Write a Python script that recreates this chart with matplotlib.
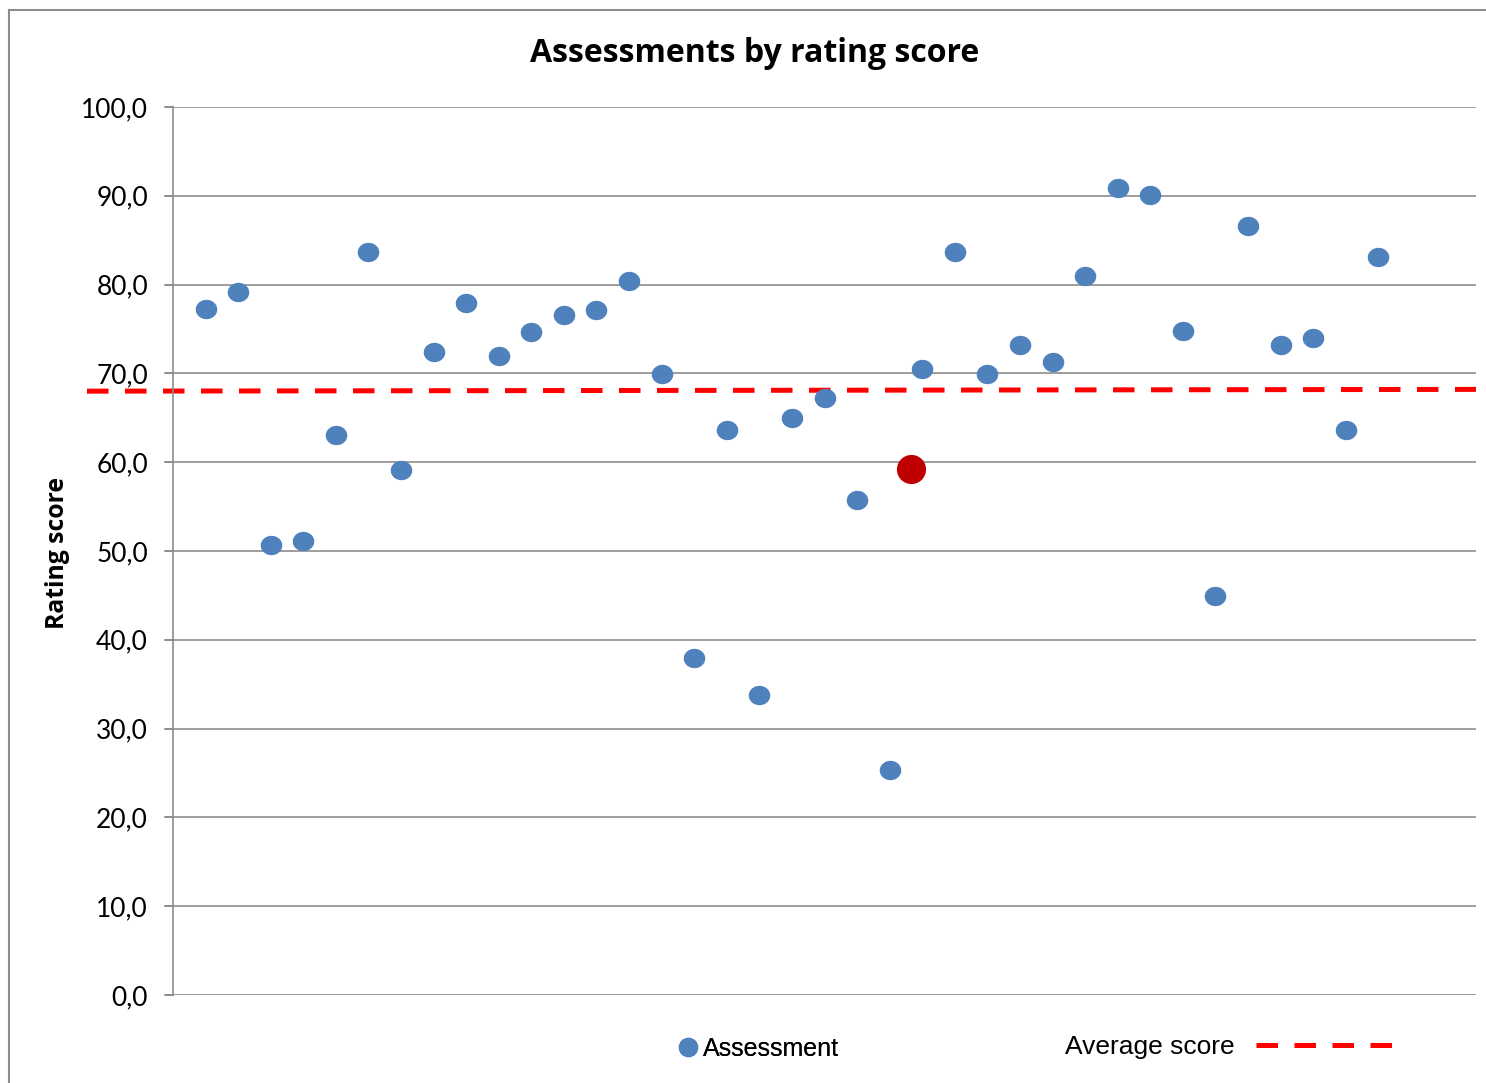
import matplotlib
matplotlib.use("Agg")
import matplotlib.pyplot as plt
import numpy as np
from matplotlib.path import Path
from matplotlib.lines import Line2D

# ---- data ----
assess_x = list(range(1, 38))
assess_y = [77.2, 79.2, 50.7, 51.1, 63.1, 83.7, 59.1, 72.4, 77.9, 72.0,
            74.7, 76.6, 77.1, 80.4, 69.9, 38.0, 63.6, 33.8, 65.0, 67.2,
            55.7, 25.3, 70.5, 83.7, 69.9, 73.2, 71.3, 81.0, 90.9, 90.1,
            74.8, 44.9, 86.6, 73.2, 74.0, 63.6, 83.1]
highlight_x = [22.67]
highlight_y = [59.2]
avg_x = [-2.64, 40.0]
avg_y = [68.0, 68.2]
yticks = [0, 10, 20, 30, 40, 50, 60, 70, 80, 90, 100]
ytick_labels = ["0,0", "10,0", "20,0", "30,0", "40,0", "50,0", "60,0",
                "70,0", "80,0", "90,0", "100,0"]
title = "Assessments by rating score"
ylabel = "Rating score"

W, H = 1486, 1083
fig = plt.figure(figsize=(W / 100, H / 100), dpi=100)
ax = fig.add_axes([173 / W, (H - 995) / H, (1476 - 173) / W, (995 - 107) / H])

grid_c = "#8c8c8c"
blue = "#4F81BD"

# ellipse marker
t = np.linspace(0, 2 * np.pi, 60)
ell = Path(np.column_stack([np.cos(t), 0.9 * np.sin(t)]), closed=True)

ax.set_xlim(0, 40)
ax.set_ylim(0, 100)
ax.set_yticks(yticks)
ax.set_yticklabels(ytick_labels, fontsize=19, family="Lato")
ax.set_xticks([])
for s in ["top", "right"]:
    ax.spines[s].set_visible(False)
ax.spines["left"].set_color(grid_c)
ax.spines["left"].set_linewidth(1.2)
ax.spines["bottom"].set_visible(False)
ax.tick_params(axis="y", length=6, width=1.2, color=grid_c, pad=12)
ax.grid(axis="y", color=grid_c, linewidth=1.2)
ax.set_axisbelow(True)
# extend gridlines to tick
for yv in yticks:
    ax.plot([-0.245, 0], [yv, yv], color=grid_c, lw=1.2, clip_on=False, zorder=0.5)

ax.plot(assess_x, assess_y, linestyle="none", marker=ell, markersize=15.5,
        markerfacecolor=blue, markeredgecolor="none", zorder=3)
ax.plot(highlight_x, highlight_y, linestyle="none", marker="o", markersize=21,
        markerfacecolor="#C00000", markeredgecolor="none", zorder=4)
ax.plot(avg_x, avg_y, color="#FF0000", lw=3.6, dashes=(4.3, 3.3),
        dash_capstyle="butt", clip_on=False, zorder=2)

fig.text(755 / W, 1 - 54 / H, title, fontsize=23, fontweight="bold",
         family="Open Sans", ha="center", va="center")
fig.text(57 / W, 1 - 553 / H, ylabel, fontsize=17.8, fontweight="bold",
         family="Open Sans", ha="center", va="center", rotation=90)

# legends
h1 = Line2D([], [], linestyle="none", marker="o", markersize=14,
            markerfacecolor=blue, markeredgecolor="none")
h2 = Line2D([], [], color="#FF0000", lw=3.6, dashes=(4.3, 3.3))
leg1 = fig.legend([h1], ["Assessment"], loc="center left",
                  bbox_to_anchor=(680 / W, 1 - 1049 / H), frameon=False,
                  prop={"family": "Liberation Sans", "size": 18},
                  handlelength=0.6, handletextpad=0.3, borderpad=0, borderaxespad=0)
leg2 = fig.legend([h2], ["Average score"], loc="center left",
                  bbox_to_anchor=(1065 / W, 1 - 1047 / H), frameon=False,
                  markerfirst=False,
                  prop={"family": "Liberation Sans", "size": 19},
                  handlelength=5.3, handletextpad=0.8, borderpad=0, borderaxespad=0)
fig.add_artist(leg1)

# outer chart border (left and top visible)
fig.add_artist(Line2D([9 / W, 9 / W], [0, 1 - 10 / H], color=grid_c, lw=1.5))
fig.add_artist(Line2D([9 / W, 1], [1 - 10 / H, 1 - 10 / H], color=grid_c, lw=1.5))

fig.savefig("out.png", dpi=100)
